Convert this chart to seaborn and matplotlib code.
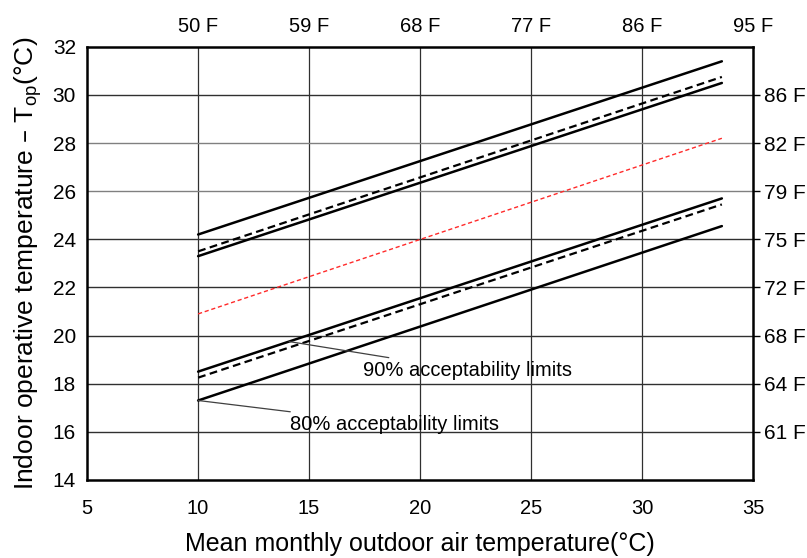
import matplotlib
matplotlib.use("Agg")
import matplotlib.pyplot as plt
import seaborn as sns

sns.set_style("white")
plt.rcParams['font.family'] = ['Liberation Sans', 'DejaVu Sans']
plt.rcParams['text.color'] = 'black'
plt.rcParams['axes.labelcolor'] = 'black'

# Data: each line given by its end points (outdoor temp, indoor operative temp)
x_ends = [10, 33.6]
upper_80 = [24.2, 31.4]
upper_90 = [23.5, 30.75]
upper_90b = [23.3, 30.5]
neutral = [20.9, 28.2]
lower_90 = [18.5, 25.7]
lower_90b = [18.25, 25.45]
lower_80 = [17.3, 24.55]

x_ticks = [5, 10, 15, 20, 25, 30, 35]
y_ticks = [14, 16, 18, 20, 22, 24, 26, 28, 30, 32]
top_ticks = [10, 15, 20, 25, 30, 35]
top_labels = ["50 F", "59 F", "68 F", "77 F", "86 F", "95 F"]
right_ticks = [16, 18, 20, 22, 24, 26, 28, 30]
right_labels = ["61 F", "64 F", "68 F", "72 F", "75 F", "79 F", "82 F", "86 F"]

fig = plt.figure(figsize=(8.07, 5.58), dpi=100)
ax = fig.add_axes([0.108, 0.140, 0.825, 0.776])

# grid
for xv in x_ticks[1:-1]:
    ax.axvline(xv, color="#303030", lw=0.9, zorder=1)
for yv in y_ticks[1:-1]:
    c = "#808080" if yv in (26, 28) else "#303030"
    ax.axhline(yv, color=c, lw=1.0, zorder=1)

solid_kw = dict(color="black", lw=1.8, zorder=3)
dash_kw = dict(color="black", lw=1.6, dashes=(3.5, 2), zorder=3)

sns.lineplot(x=x_ends, y=upper_80, ax=ax, **solid_kw)
sns.lineplot(x=x_ends, y=upper_90, ax=ax, **dash_kw)
sns.lineplot(x=x_ends, y=upper_90b, ax=ax, **solid_kw)
sns.lineplot(x=x_ends, y=neutral, ax=ax, color="#ff2a2a", lw=1.0, dashes=(3, 2), zorder=3)
sns.lineplot(x=x_ends, y=lower_90, ax=ax, **solid_kw)
sns.lineplot(x=x_ends, y=lower_90b, ax=ax, **dash_kw)
sns.lineplot(x=x_ends, y=lower_80, ax=ax, **solid_kw)

# annotations
ax.annotate("90% acceptability limits", xy=(14.1, 19.75), xytext=(17.45, 18.55),
            fontsize=14.5, va="center", ha="left", color="black",
            arrowprops=dict(arrowstyle="-", color="#404040", lw=0.9, shrinkA=0, shrinkB=0))
ax.annotate("80% acceptability limits", xy=(10.0, 17.3), xytext=(14.15, 16.3),
            fontsize=14.5, va="center", ha="left", color="black",
            arrowprops=dict(arrowstyle="-", color="#404040", lw=0.9, shrinkA=0, shrinkB=0))

ax.set_xlim(5, 35)
ax.set_ylim(14, 32)
ax.set_xticks(x_ticks)
ax.set_yticks(y_ticks)
ax.tick_params(axis="y", length=0, labelsize=15, pad=8, colors="black")
ax.tick_params(axis="x", length=0, labelsize=14.5, pad=14, colors="black")
ax.set_xlabel("Mean monthly outdoor air temperature(°C)", fontsize=18, labelpad=10)
ax.set_ylabel("Indoor operative temperature – T$_{\\mathregular{op}}$(°C)", fontsize=19, labelpad=6)
for s in ax.spines.values():
    s.set_visible(True)
    s.set_color("black")
    s.set_linewidth(1.8)

axr = ax.twinx()
axr.set_ylim(14, 32)
axr.set_yticks(right_ticks)
axr.set_yticklabels(right_labels)
axr.tick_params(axis="y", length=5, width=1, labelsize=15, pad=3, colors="black")
axt = ax.twiny()
axt.set_xlim(5, 35)
axt.set_xticks(top_ticks)
axt.set_xticklabels(top_labels)
axt.tick_params(axis="x", length=0, labelsize=14.5, pad=8, colors="black")
for a in (axr, axt):
    for s in a.spines.values():
        s.set_visible(False)

fig.savefig("out.png", dpi=100)
